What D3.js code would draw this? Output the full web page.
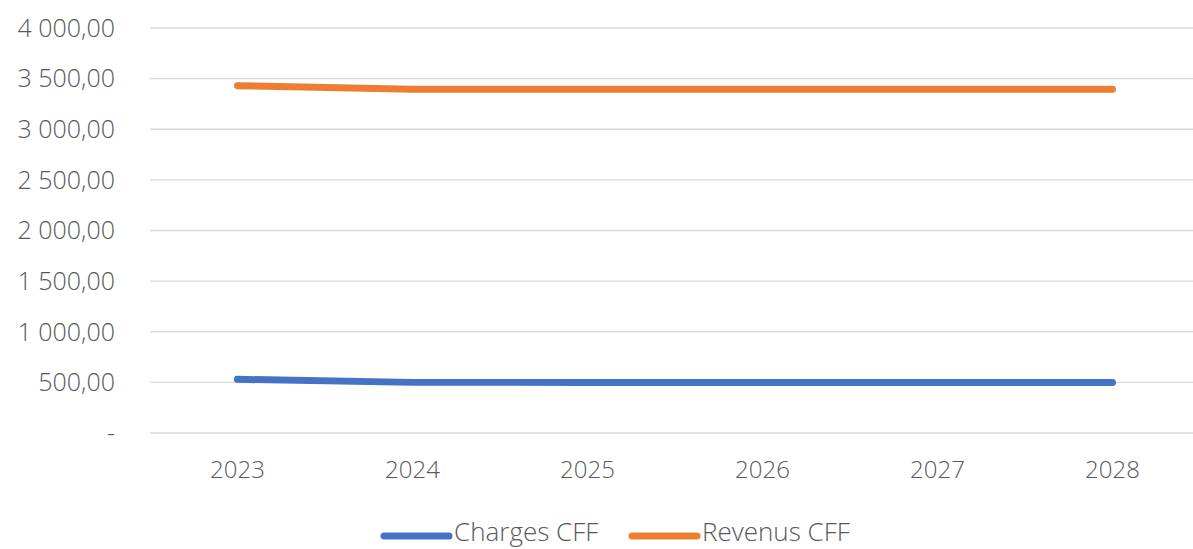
<!DOCTYPE html>
<html>
<head>
<meta charset="utf-8">
<script src="https://cdn.jsdelivr.net/npm/d3@7"></script>
<style>
  body { margin: 0; background: #fff; }
  svg text { font-family: "Open Sans", "Noto Sans", sans-serif; font-weight: 300; fill: #595959; }
</style>
</head>
<body>
<div id="chart"></div>
<script>
var years = ["2023", "2024", "2025", "2026", "2027", "2028"];
var charges = [530, 500, 500, 500, 500, 500];
var revenus = [3430, 3395, 3395, 3395, 3395, 3395];
var yTicks = [0, 500, 1000, 1500, 2000, 2500, 3000, 3500, 4000];
var seriesNames = ["Charges CFF", "Revenus CFF"];
var colors = ["#4472C4", "#ED7D31"];

var width = 1193, height = 549;
var margin = {top: 28, right: -7, bottom: 116, left: 150};

var svg = d3.select("#chart").append("svg")
    .attr("width", width)
    .attr("height", height);

var x = d3.scaleBand()
    .domain(years)
    .range([margin.left, width - margin.right]);

var y = d3.scaleLinear()
    .domain([0, 4000])
    .range([height - margin.bottom, margin.top]);

// format like "3 500,00", zero shown as "-"
function fmt(v) {
  if (v === 0) return "-";
  var s = d3.format(",.2f")(v);
  return s.replace(/,/g, " ").replace(".", ",");
}

//gridlines
svg.append("g").selectAll("line")
    .data(yTicks)
    .enter().append("line")
    .attr("x1", margin.left)
    .attr("x2", width)
    .attr("y1", d => y(d))
    .attr("y2", d => y(d))
    .attr("stroke", "#d9d9d9")
    .attr("stroke-width", 1.3);

//y labels
svg.append("g").selectAll("text")
    .data(yTicks)
    .enter().append("text")
    .attr("x", 115)
    .attr("y", d => y(d))
    .attr("dy", "0.35em")
    .attr("text-anchor", "end")
    .style("font-size", "25px")
    .text(fmt);

//x labels
svg.append("g").selectAll("text")
    .data(years)
    .enter().append("text")
    .attr("x", d => x(d) + x.bandwidth() / 2)
    .attr("y", 470)
    .attr("dy", "0.35em")
    .attr("text-anchor", "middle")
    .style("font-size", "24px")
    .text(d => d);

var line = d3.line()
    .x((d, i) => x(years[i]) + x.bandwidth() / 2)
    .y(d => y(d));

[charges, revenus].forEach(function(s, i) {
  svg.append("path")
      .datum(s)
      .attr("d", line)
      .attr("fill", "none")
      .attr("stroke", colors[i])
      .attr("stroke-width", 7)
      .attr("stroke-linecap", "round")
      .attr("stroke-linejoin", "round");
});

//legend
var legendX = [384, 632];
var legend = svg.append("g").selectAll("g")
    .data(seriesNames)
    .enter().append("g")
    .attr("transform", (d, i) => "translate(" + legendX[i] + ",536)");

legend.append("line")
    .attr("x1", 0).attr("x2", 65)
    .attr("stroke", (d, i) => colors[i])
    .attr("stroke-width", 7)
    .attr("stroke-linecap", "round");

legend.append("text")
    .attr("x", 70)
    .attr("y", 5)
    .style("font-size", "26px")
    .text(d => d);
</script>
</body>
</html>
